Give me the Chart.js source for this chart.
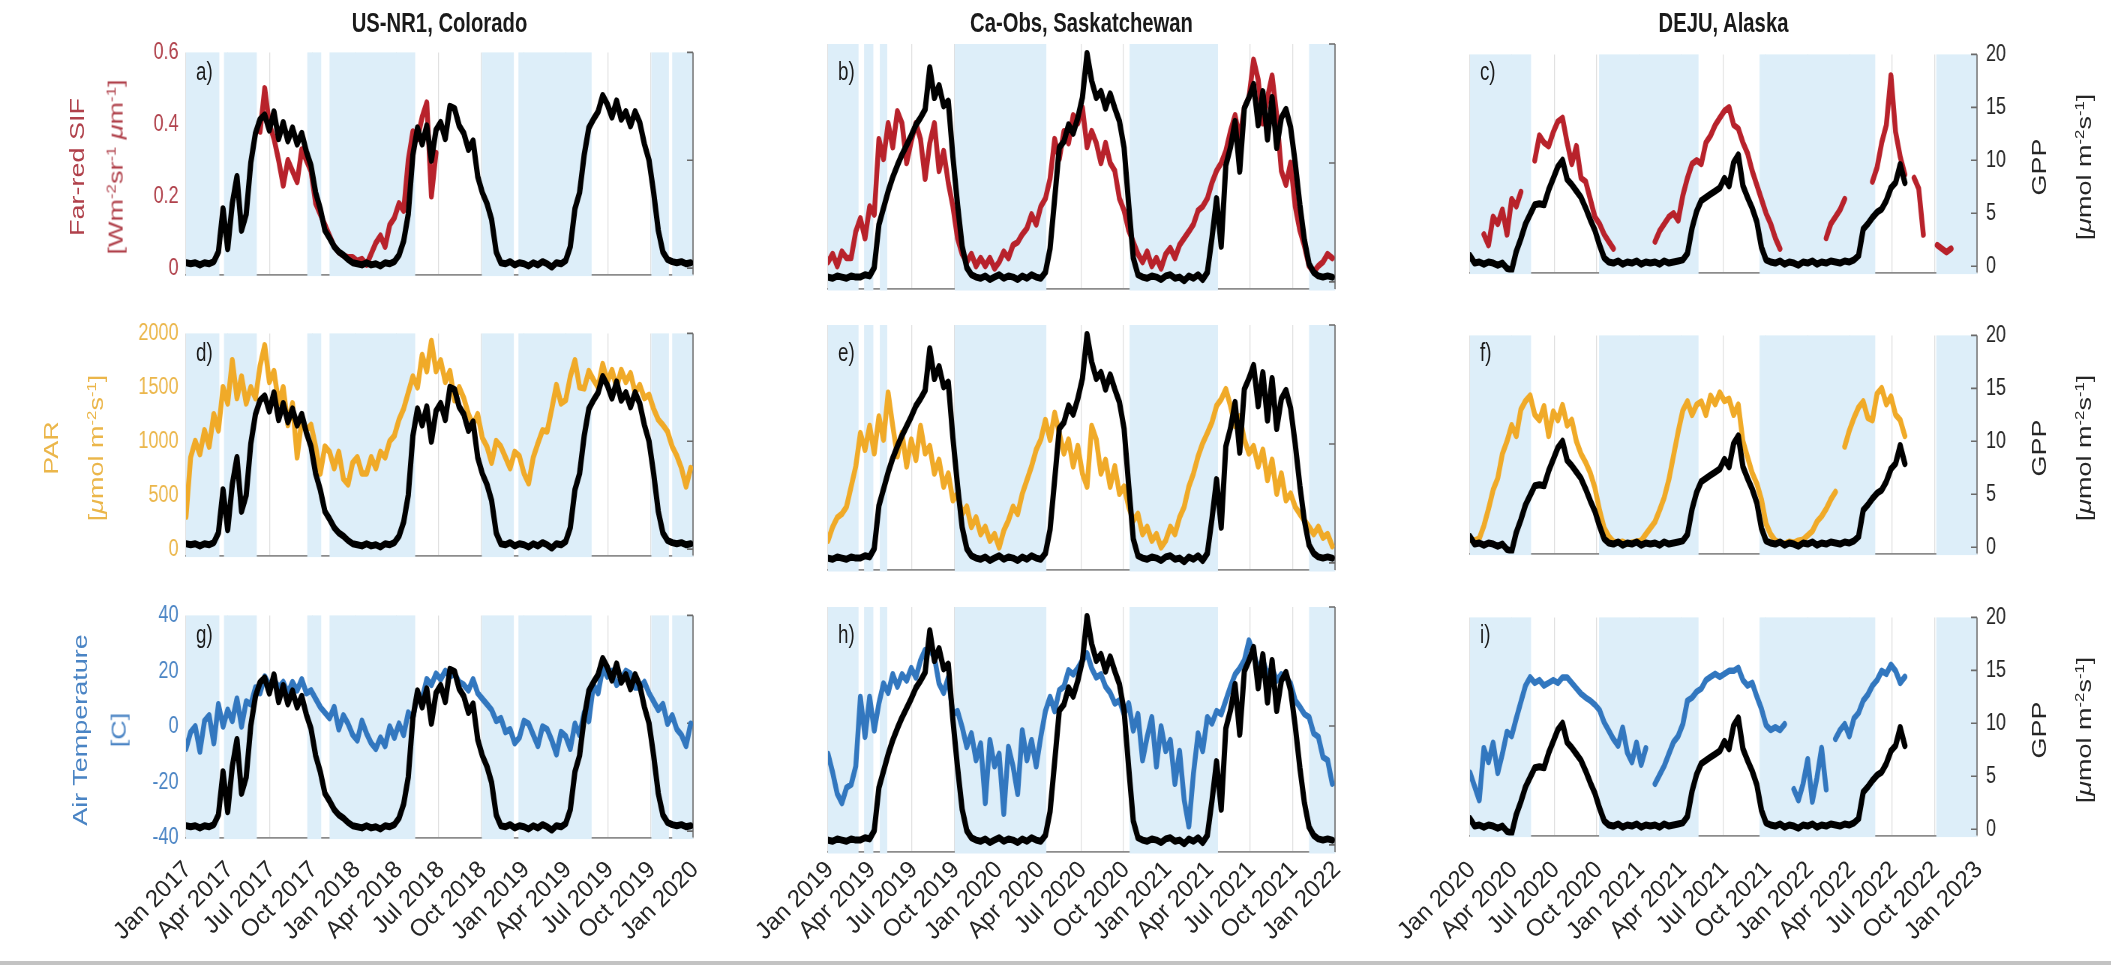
<!DOCTYPE html>
<html>
<head>
<meta charset="utf-8">
<title>SIF, PAR, air temperature and GPP at three sites</title>
<script src="https://cdn.jsdelivr.net/npm/chart.js@4.4.1/dist/chart.umd.min.js"></script>
<style>
  html, body { margin: 0; padding: 0; background: #fff; }
  body { width: 2111px; height: 966px; position: relative; overflow: hidden;
         font-family: "Liberation Sans", Arial, Helvetica, sans-serif; }
  /* the figure is laid out wide and then narrowed horizontally */
  #fig { position: absolute; left: 0; top: 0; height: 966px; transform-origin: 0 0; }
  canvas { position: absolute; }
  .t { position: absolute; white-space: nowrap; line-height: 1; }
  .xl { position: absolute; white-space: nowrap; line-height: 1; font-size: 24px; color: #262626;
        transform-origin: 100% 50%; transform: translate(-100%, -50%) rotate(-45deg); }
  sup { font-size: 62%; vertical-align: baseline; position: relative; top: -0.55em; }
  .bottomrule { position: absolute; left: 0; top: 961px; width: 2111px; height: 4px; background: #c3c3c3; }
</style>
</head>
<body>
<div id="fig"></div>
<div class="bottomrule"></div>
<script>
// ---- samples: one value every STEP days from 1 Jan of each site's first year ----
const STEP = 10;

// US-NR1, Colorado (2017-2019)
const gppColorado = [0.5,0.4,0.5,0.3,0.5,0.4,0.6,1.5,5.5,1.8,
  6,8.5,3.5,5,9.8,12.5,13.8,14.2,12.8,14.5,
  12,13.5,11.8,13,11.5,12.5,10.8,9.5,7,5.5,
  3.5,2.8,2,1.5,1.2,0.8,0.5,0.4,0.3,0.5,
  0.3,0.4,0.2,0.5,0.4,0.6,1.2,2.5,5,10.5,
  13,11.5,13.2,10,12.8,13.5,12,15,14.8,13.2,
  12.5,11,11.8,8.5,7,6,4.5,1.5,0.5,0.4,
  0.6,0.3,0.5,0.4,0.2,0.5,0.3,0.6,0.4,0.1,
  0.5,0.4,0.7,2,5.5,7,10.5,13,13.8,14.5,
  16,15.2,14,15.5,13.8,14.5,13.2,14.5,13.5,11.5,
  10,7,3.5,1.5,0.8,0.6,0.5,0.6,0.4,0.5];
const sifColorado = [null,null,null,null,null,null,null,null,null,null,
  null,null,null,null,null,null,0.38,0.50,0.40,0.36,
  0.30,0.23,0.30,0.27,0.24,0.33,0.30,0.27,0.18,0.15,
  0.12,0.09,0.06,0.045,0.035,0.03,0.03,0.02,0.025,0.01,
  0.04,0.07,0.09,0.06,0.12,0.14,0.18,0.16,0.30,0.38,
  0.36,0.42,0.46,0.20,0.32,null,null,null,null,null,
  null,null,null,null,null,null,null,null,null,null,
  null,null,null,null,null,null,null,null,null,null,
  null,null,null,null,null,null,null,null,null,null,
  null,null,null,null,null,null,null,null,null,null,
  null,null,null,null,null,null,null,null,null,null];
const parColorado = [300,850,1000,880,1100,950,1250,1100,1500,1350,
  1750,1400,1600,1350,1500,1400,1700,1890,1550,1650,
  1350,1500,1150,1350,850,1200,1100,1150,950,700,
  950,900,750,900,650,600,800,850,700,700,
  850,750,900,850,1000,1050,1200,1300,1450,1600,
  1500,1800,1650,1930,1650,1750,1550,1650,1380,1500,
  1400,1250,1150,1250,1030,950,800,1000,950,850,
  750,900,860,700,610,850,980,1100,1090,1300,
  1520,1350,1380,1600,1750,1500,1490,1650,1570,1500,
  1715,1550,1660,1500,1660,1550,1630,1450,1520,1400,
  1430,1300,1200,1150,1090,950,865,750,580,750];
const tempColorado = [-8,-2,0,-9,2,4,-6,8,0,6,
  2,10,0,9,8,14,12,18,15,17,
  14,16,12,16,13,17,12,13,10,7,
  5,3,7,-1,4,1,-3,-5,2,-2.5,
  -6,-8,-4,-7,0,-4,1,-3,5,3,
  12,10,17,15,19,17,20,18,19,16,
  15,13,17,12,10,8,6,2,3,-2,
  -1,-6,-4,2,1,-3,-7,0,-1,-5,
  -10,-2,-3.5,-8,1,-3,5,2,15,12,
  21,18,20,15,17,20,19,14,14,16,
  12,9,6,8,1,4,-1,-3,-7,1];

// Ca-Obs, Saskatchewan (2019-2021)
const gppSaskatchewan = [0.4,0.3,0.5,0.4,0.3,0.5,0.4,0.4,0.6,0.5,
  1.2,4.8,6.2,7.6,8.8,9.8,10.7,11.5,12.3,13.2,
  13.8,14.5,18,15.5,16.5,14.8,15.2,10.5,6.5,3,
  1.2,0.6,0.4,0.3,0.5,0.2,0.4,0.6,0.3,0.5,
  0.4,0.2,0.5,0.3,0.6,0.4,0.3,0.8,2.8,7,
  11.3,11.8,13.2,12.5,13.8,15.5,19.2,16.9,15.5,16,
  14.6,15.8,14.6,13.5,11.3,6.5,2,0.6,0.4,0.3,
  0.5,0.4,0.2,0.5,0.6,0.3,0.4,0.1,0.5,0.3,
  0.6,0.2,0.8,3.7,7,3,9.8,11.3,13.5,9.3,
  14.6,15.5,16.6,13.2,16,12,15.5,11.3,13.8,14.5,
  13,10,6.5,3.5,1.5,0.8,0.5,0.4,0.5,0.4];
const sifSaskatchewan = [0.05,0.07,0.04,0.076,0.06,0.06,0.127,0.16,0.11,0.19,
  0.17,0.36,0.31,0.40,0.34,0.43,0.40,0.30,0.355,0.40,
  0.36,0.26,0.35,0.40,0.28,0.33,0.25,0.19,0.11,0.07,
  0.05,0.07,0.04,0.06,0.04,0.06,0.034,0.05,0.076,0.06,
  0.093,0.10,0.12,0.135,0.17,0.145,0.19,0.21,0.26,0.36,
  0.31,0.38,0.35,0.42,0.40,0.44,0.34,0.38,0.35,0.30,
  0.35,0.30,0.28,0.21,0.18,0.13,0.10,0.07,0.05,0.076,
  0.04,0.06,0.034,0.07,0.085,0.06,0.093,0.11,0.127,0.145,
  0.18,0.19,0.21,0.25,0.28,0.30,0.33,0.38,0.42,0.36,
  0.44,0.465,0.56,0.51,0.40,0.465,0.52,0.42,0.28,0.245,
  0.30,0.19,0.13,0.09,0.04,0.025,0.04,0.05,0.07,0.06];
const parSaskatchewan = [185,300,380,410,470,640,810,1090,950,1150,
  920,1230,1035,1430,1150,895,1090,810,1035,865,
  1150,920,980,750,865,640,750,525,580,410,
  470,300,380,240,300,185,240,128,270,355,
  470,410,580,695,810,950,1035,1200,1035,1260,
  1090,920,1035,810,980,750,640,1150,1035,750,
  865,640,810,580,640,470,355,410,240,300,
  185,240,128,185,300,240,380,470,640,750,
  895,1005,1090,1180,1320,1375,1460,1320,1150,1230,
  1035,920,980,810,950,695,865,580,750,525,
  580,470,410,355,300,240,300,210,240,140];
const tempSaskatchewan = [-8,-14,-21,-24,-19,-18,-12,10.6,-2.4,10.6,
  -0.3,8.5,15,12,18,14,18,16,20,17,
  22.6,26,26,23.7,15,12,17,5,6,0.8,
  -5.7,-1.3,-10,-4.6,-24,-3.5,-12,-8,-27.5,-5.7,
  -12,-21,-0.3,-10,-3.5,-12,-2.4,6,10.6,6,
  12.8,14,19.3,18,20,22.6,24.8,20,17,18,
  14,12,8.5,9.5,5,8.5,-0.3,5,-10,-2.4,
  4,-12,1,-7,-3.5,-17.7,-7,-23,-31.6,-14.4,
  -1.3,-7,4,2,6,5,9.5,14,18,20,
  22.6,29,24.8,20,22.6,18,20,16,18,17,
  15,9.5,7.4,5,4,-1.3,-2.4,-9,-10,-17.7];

// DEJU, Alaska (2020-2022)
const gppAlaska = [1.0,0.3,0.4,0.2,0.4,0.3,0.1,0.3,-0.2,-0.4,
  1.4,2.6,4.0,4.9,5.8,5.9,5.8,7.2,8.3,9.4,
  10,8.2,7.7,7.1,6.5,5.5,4.4,3.4,2.0,0.8,
  0.4,0.3,0.5,0.2,0.4,0.3,0.5,0.2,0.4,0.3,
  0.4,0.2,0.5,0.3,0.4,0.5,0.6,1.2,3.6,5.2,
  6.2,6.5,6.8,7.1,7.4,8.3,7.6,9.8,10.5,7.6,
  6.5,5.5,4.2,1.8,0.6,0.4,0.3,0.5,0.2,0.4,
  0.3,0.1,0.4,0.3,0.5,0.2,0.4,0.3,0.5,0.4,
  0.3,0.5,0.4,0.6,1.0,3.5,4.0,4.6,5.1,5.4,
  6.2,7.4,7.9,9.6,7.9,null,null,null,null,null,
  null,null,null,null,null,null,null,null,null,null];
const sifAlaska = [null,null,null,0.09,0.06,0.14,0.12,0.16,0.09,0.19,
  0.17,0.21,null,null,0.30,0.37,0.35,0.34,0.38,0.41,
  0.42,0.35,0.29,0.34,0.25,0.24,0.19,0.14,0.12,0.09,
  0.07,0.05,null,null,null,null,null,null,null,null,
  0.07,0.10,0.12,0.14,0.15,0.13,0.20,0.25,0.29,0.30,
  0.29,0.35,0.37,0.40,0.42,0.44,0.45,0.40,0.39,0.35,
  0.32,0.27,0.23,0.19,0.15,0.12,0.08,0.05,null,null,
  null,null,null,null,null,null,null,0.08,0.12,0.14,
  0.16,0.19,null,null,null,null,null,0.24,0.28,0.35,
  0.40,0.54,0.38,0.31,0.26,null,0.25,0.22,0.09,null,
  null,0.06,0.05,0.04,0.05,null,null,null,null,null];
const parAlaska = [70,60,80,200,360,540,650,880,1000,1150,
  1050,1300,1380,1430,1250,1200,1330,1050,1280,1200,
  1340,1150,1200,1000,880,800,700,560,350,180,
  100,50,40,50,30,40,50,60,120,180,
  240,350,470,640,865,1090,1290,1375,1250,1345,
  1375,1250,1430,1350,1460,1380,1400,1250,1345,1000,
  850,700,600,450,220,120,60,40,30,50,
  40,60,70,110,150,240,290,360,450,520,
  null,950,1100,1220,1320,1375,1220,1200,1450,1500,
  1350,1420,1250,1200,1050,null,null,null,null,null,
  null,null,null,null,null,null,null,null,null,null];
const tempAlaska = [-17,-22,-27,-8,-13,-6,-17,-10,-2,-3.5,
  3,9,15,18,16,17,15,16,17,16,
  18,18,16,14,12,10.6,9.5,8,6,1.5,
  -1.5,-4.6,-7,-0.5,-9.5,-13,-6,-14,-8,null,
  -21,-17.7,-14.4,-10,-5.7,-3.5,0.8,9.5,10.6,12.8,
  13.9,17,18.2,19.3,18.2,19.3,20.4,20.4,21.5,17,
  15,16,11,6.5,0.5,-1.3,-0.3,-1.3,0.8,null,
  -23,-27,-21,-12,-27.5,-18.8,-7.9,-23,null,-4.5,
  -1.3,0.8,-3.5,3,5,9.5,11.7,15,17,20.4,
  19.3,22.6,20.4,16,18.2,null,null,null,null,null,
  null,null,null,null,null,null,null,null,null,null];

// shaded periods, [first day, last day] counted from 1 Jan of the first year
const shadeColorado = [[0,72],[82,153],[262,292],[310,495],[639,708],[718,876],[1005,1043],[1050,1095]];
const shadeSaskatchewan = [[0,66],[78,98],[112,128],[274,472],[652,843],[1040,1096]];
const shadeAlaska = [[0,132],[279,494],[626,876],[1008,1096]];

// quarterly tick labels
const ticksColorado = ['Jan 2017','Apr 2017','Jul 2017','Oct 2017','Jan 2018','Apr 2018','Jul 2018','Oct 2018','Jan 2019','Apr 2019','Jul 2019','Oct 2019','Jan 2020'];
const ticksSaskatchewan = ['Jan 2019','Apr 2019','Jul 2019','Oct 2019','Jan 2020','Apr 2020','Jul 2020','Oct 2020','Jan 2021','Apr 2021','Jul 2021','Oct 2021','Jan 2022'];
const ticksAlaska = ['Jan 2020','Apr 2020','Jul 2020','Oct 2020','Jan 2021','Apr 2021','Jul 2021','Oct 2021','Jan 2022','Apr 2022','Jul 2022','Oct 2022','Jan 2023'];

const sifTicks = [0, 0.2, 0.4, 0.6];
const parTicks = [0, 500, 1000, 1500, 2000];
const tempTicks = [-40, -20, 0, 20, 40];
const gppTicks = [0, 5, 10, 15, 20];
const gppTicksUnlabelled = [0, 10, 20];

// ---- styling ----
Chart.defaults.font.family = '"Liberation Sans", Arial, Helvetica, sans-serif';
const SHADE = '#ddeef9';
const GRID = 'rgba(0,0,0,0.13)';
const TICK_FONT = 24;
const SQ = 0.75;              // horizontal narrowing of the whole figure
const fig = document.getElementById('fig');
fig.style.width = (2111 / SQ) + 'px';
fig.style.transform = 'scaleX(' + SQ + ')';
const ux = x => x / SQ;       // page x -> layout x

const sites = [
  { title: 'US-NR1, Colorado', start: 2017, labels: ticksColorado, shade: shadeColorado,
    gpp: gppColorado, drivers: [sifColorado, parColorado, tempColorado] },
  { title: 'Ca-Obs, Saskatchewan', start: 2019, labels: ticksSaskatchewan, shade: shadeSaskatchewan,
    gpp: gppSaskatchewan, drivers: [sifSaskatchewan, parSaskatchewan, tempSaskatchewan] },
  { title: 'DEJU, Alaska', start: 2020, labels: ticksAlaska, shade: shadeAlaska,
    gpp: gppAlaska, drivers: [sifAlaska, parAlaska, tempAlaska] }
];

const variables = [
  { line: '#b8222b', text: '#b0414b', min: -0.018, max: 0.6, ticks: sifTicks },
  { line: '#f0aa28', text: '#ebb64a', min: -62, max: 2000, ticks: parTicks },
  { line: '#3277bf', text: '#4a84c4', min: -40, max: 40, ticks: tempTicks }
];

// panel geometry (page pixels)
const COL_LEFT = [186, 828, 1470];
const ROW_TOP = [44, 325, 607];
const PW = 507, PH = 245;
const PAD_L = 104, PAD_R = 70, PAD_T = 16;   // layout pixels

function quarterDays(startYear, count) {
  const base = Date.UTC(startYear, 0, 1);
  const out = [];
  for (let k = 0; k < count; k++) {
    const y = startYear + Math.floor(k / 4), m = (k % 4) * 3;
    out.push((Date.UTC(y, m, 1) - base) / 86400000);
  }
  return out;
}

function toPoints(values) {
  return values.map((v, i) => ({ x: i * STEP, y: v }));
}

// shading, right-hand axis line and its inward ticks
const panelDecor = {
  id: 'panelDecor',
  beforeDatasetsDraw(chart, args, opts) {
    const { ctx, chartArea: a, scales } = chart;
    ctx.save();
    ctx.fillStyle = SHADE;
    for (const [d0, d1] of opts.shade) {
      const x0 = scales.x.getPixelForValue(d0);
      const x1 = scales.x.getPixelForValue(d1);
      ctx.fillRect(x0, a.top, x1 - x0, a.bottom - a.top + 1.5);
    }
    ctx.strokeStyle = '#6a6a6a';
    ctx.lineWidth = 1.6;
    ctx.beginPath();
    ctx.moveTo(a.right, a.top);
    ctx.lineTo(a.right, a.bottom);
    for (const v of opts.rightTicks) {
      const y = scales.yR.getPixelForValue(v);
      ctx.moveTo(a.right - 8, y);
      ctx.lineTo(a.right, y);
    }
    ctx.stroke();
    ctx.restore();
  }
};

function makePanel(col, row) {
  const site = sites[col], v = variables[row];
  const padB = 10;
  const pw = Math.round(ux(PW));
  const canvas = document.createElement('canvas');
  const w = PAD_L + pw + PAD_R, h = PAD_T + PH + padB;
  canvas.width = w; canvas.height = h;
  canvas.style.left = (ux(COL_LEFT[col]) - PAD_L) + 'px';
  canvas.style.top = (ROW_TOP[row] - PAD_T) + 'px';
  canvas.style.width = w + 'px'; canvas.style.height = h + 'px';
  fig.appendChild(canvas);

  const tickDays = quarterDays(site.start, site.labels.length);
  const total = tickDays[tickDays.length - 1];

  new Chart(canvas, {
    type: 'line',
    data: {
      datasets: [
        { data: toPoints(site.gpp), borderColor: '#000000', borderWidth: 7, yAxisID: 'yR', order: 0 },
        { data: toPoints(site.drivers[row]), borderColor: v.line, borderWidth: 6.5, yAxisID: 'yL', order: 1 }
      ]
    },
    options: {
      responsive: false, animation: false, devicePixelRatio: 1, events: [],
      spanGaps: false,
      layout: { padding: { top: PAD_T, left: 0, right: 0, bottom: 0 } },
      elements: {
        point: { radius: 0 },
        line: { tension: 0, fill: false, borderJoinStyle: 'round', borderCapStyle: 'round' }
      },
      plugins: {
        legend: { display: false }, tooltip: { enabled: false },
        panelDecor: { shade: site.shade, rightTicks: col === 2 ? gppTicks : gppTicksUnlabelled }
      },
      scales: {
        x: {
          type: 'linear', min: 0, max: total,
          afterBuildTicks: s => { s.ticks = tickDays.map(d => ({ value: d })); },
          afterFit: s => { s.height = padB; },
          grid: { display: true, color: GRID, lineWidth: 1.3, drawTicks: false },
          border: { display: true, color: '#8c8c8c', width: 1.8 },
          ticks: { display: false }
        },
        yL: {
          position: 'left', min: v.min, max: v.max,
          afterBuildTicks: s => { s.ticks = v.ticks.map(t => ({ value: t })); },
          afterFit: s => { s.width = PAD_L; },
          grid: { display: false, drawTicks: false },
          border: { display: false },
          ticks: { display: col === 0, color: v.text, font: { size: TICK_FONT }, padding: 10,
                   callback: val => String(val) }
        },
        yR: {
          position: 'right', min: -0.6, max: 20,
          afterBuildTicks: s => { s.ticks = gppTicks.map(t => ({ value: t })); },
          afterFit: s => { s.width = PAD_R; },
          grid: { display: false, drawTicks: false },
          border: { display: false },
          ticks: { display: col === 2, color: '#262626', font: { size: TICK_FONT }, padding: 12,
                   callback: val => String(val) }
        }
      }
    },
    plugins: [panelDecor]
  });

  // date labels under the bottom row, set at 45 degrees in page space
  if (row === 2) {
    tickDays.forEach((d, k) => {
      const el = document.createElement('div');
      el.className = 'xl';
      el.textContent = site.labels[k];
      el.style.left = (COL_LEFT[col] + PW * d / total + 1) + 'px';
      el.style.top = (ROW_TOP[row] + PH + 13) + 'px';
      document.body.appendChild(el);
    });
  }
}

for (let r = 0; r < 3; r++) for (let c = 0; c < 3; c++) makePanel(c, r);

// ---- text: column titles, panel letters, axis titles (x given in page pixels) ----
function addText(html, x, y, style, mode) {
  const d = document.createElement('div');
  d.className = 't';
  d.innerHTML = html;
  Object.assign(d.style, style);
  d.style.left = ux(x) + 'px';
  d.style.top = y + 'px';
  if (mode === 'rot') d.style.transform = 'translate(-50%,-50%) rotate(-90deg)';
  else if (mode === 'left') d.style.transform = 'translate(0,-50%)';
  else d.style.transform = 'translate(-50%,-50%)';
  fig.appendChild(d);
}

sites.forEach((s, c) => {
  addText(s.title, COL_LEFT[c] + PW / 2, 23, { fontWeight: 'bold', fontSize: '27px', color: '#1a1a1a' });
});

const letters = ['a)', 'b)', 'c)', 'd)', 'e)', 'f)', 'g)', 'h)', 'i)'];
for (let r = 0; r < 3; r++) for (let c = 0; c < 3; c++) {
  addText(letters[r * 3 + c], COL_LEFT[c] + 10, ROW_TOP[r] + 27, { fontSize: '25px', color: '#1a1a1a' }, 'left');
}

const unitGpp = '[<i>&mu;</i>mol m<sup>-2</sup>s<sup>-1</sup>]';
const leftTitles = [
  ['Far-red SIF', '[Wm<sup>-2</sup>sr<sup>-1</sup> <i>&mu;</i>m<sup>-1</sup>]', 78, 116],
  ['PAR', unitGpp, 52, 97],
  ['Air Temperature', '[C]', 80, 119]
];
leftTitles.forEach(([l1, l2, x1, x2], r) => {
  const yc = ROW_TOP[r] + PH / 2;
  const st = { fontSize: '27px', color: variables[r].text };
  addText(l1, x1, yc, st, 'rot');
  addText(l2, x2, yc, st, 'rot');
});
for (let r = 0; r < 3; r++) {
  const yc = ROW_TOP[r] + PH / 2;
  const st = { fontSize: '27px', color: '#262626' };
  addText('GPP', 2040, yc, st, 'rot');
  addText(unitGpp, 2084, yc, st, 'rot');
}
</script>
</body>
</html>
